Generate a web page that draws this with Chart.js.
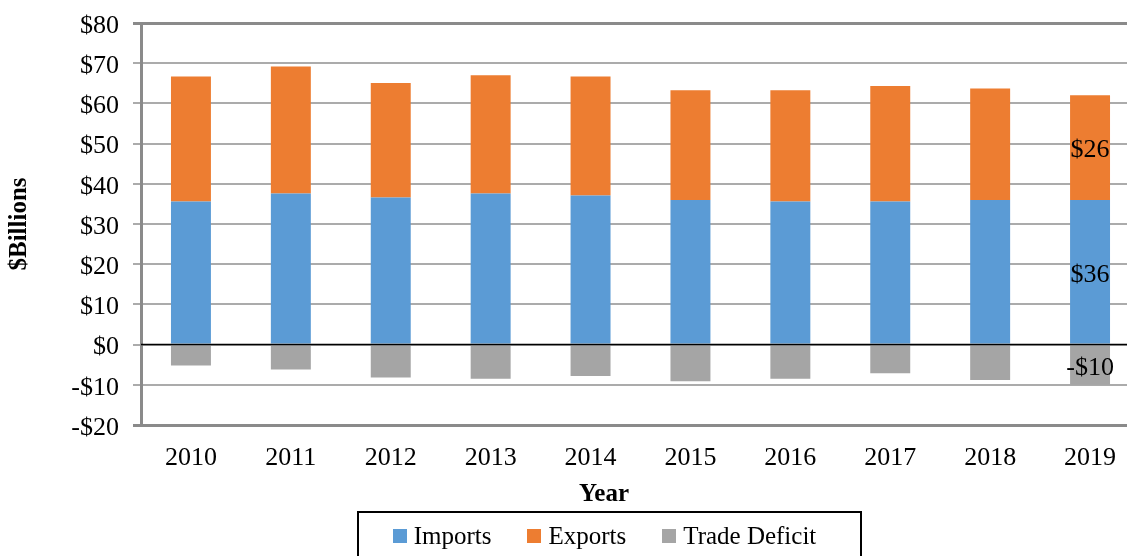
<!DOCTYPE html>
<html>
<head>
<meta charset="utf-8">
<title>Imports, Exports and Trade Deficit</title>
<script src="https://cdn.jsdelivr.net/npm/chart.js@4"></script>
<style>
  html, body { margin: 0; padding: 0; background: #fff; overflow: hidden; }
  #wrap { position: relative; width: 1141px; height: 556px; }
  #xTitle {
    position: absolute; left: 554px; width: 100px; top: 479px;
    text-align: center; font: bold 25px "Liberation Serif", serif; color: #000;
  }
  #legend {
    position: absolute; left: 357px; top: 511px; width: 505px; height: 70px;
    box-sizing: border-box; border: 2px solid #000;
    display: flex; justify-content: center; padding-top: 8px; padding-right: 10px;
    font: 25px "Liberation Serif", serif; color: #000;
  }
  #legend .item { display: flex; align-items: center; margin: 0 18px; height: 30px; }
  #legend .swatch { width: 14px; height: 14px; margin-right: 7px; }
</style>
</head>
<body>
<div id="wrap">
  <canvas id="tradeChart"></canvas>
  <div id="xTitle">Year</div>
  <div id="legend"></div>
</div>
<script>
const years = ['2010', '2011', '2012', '2013', '2014', '2015', '2016', '2017', '2018', '2019'];
const imports = [35.6, 37.6, 36.6, 37.6, 37.1, 36.0, 35.6, 35.6, 36.0, 36];
const exports = [31.1, 31.6, 28.5, 29.4, 29.6, 27.3, 27.7, 28.7, 27.7, 26];
const deficit = [-5.2, -6.2, -8.2, -8.5, -7.8, -9.1, -8.5, -7.1, -8.8, -10];

const yMin = -20;
const yMax = 80;
const yStep = 10;

const serif = '"Liberation Serif", "Times New Roman", serif';

const money = v => (v < 0 ? '-$' : '$') + Math.abs(Math.round(v));

// zero line goes over the bars, values written on the last year's bar
const overlay = {
  id: 'overlay',
  afterDatasetsDraw(chart) {
    const ctx = chart.ctx;
    const area = chart.chartArea;
    const y0 = chart.scales.y.getPixelForValue(0);
    ctx.save();
    ctx.strokeStyle = '#000';
    ctx.lineWidth = 1.5;
    ctx.beginPath();
    ctx.moveTo(area.left, y0);
    ctx.lineTo(area.right, y0);
    ctx.stroke();

    ctx.font = '26px ' + serif;
    ctx.fillStyle = '#000';
    ctx.textAlign = 'center';
    ctx.textBaseline = 'middle';
    const last = years.length - 1;
    chart.data.datasets.forEach((ds, i) => {
      const el = chart.getDatasetMeta(i).data[last];
      ctx.fillText(money(ds.data[last]), el.x, (el.y + el.base) / 2 + 3);
    });
    ctx.restore();
  }
};

const chart = new Chart(document.getElementById('tradeChart'), {
  type: 'bar',
  data: {
    labels: years,
    datasets: [
      { label: 'Imports', data: imports, backgroundColor: '#5b9bd5' },
      { label: 'Exports', data: exports, backgroundColor: '#ed7d31' },
      { label: 'Trade Deficit', data: deficit, backgroundColor: '#a5a5a5' }
    ]
  },
  options: {
    responsive: true,
    maintainAspectRatio: false,
    animation: false,
    layout: { padding: { top: 23, right: 1, bottom: 0, left: 0 } },
    datasets: { bar: { categoryPercentage: 1, barPercentage: 0.4 } },
    plugins: {
      legend: { display: false },
      tooltip: { enabled: false }
    },
    scales: {
      x: {
        stacked: true,
        grid: { display: false, drawTicks: false },
        border: { display: false },
        ticks: { color: '#000', padding: 18, font: { family: serif, size: 26 } },
        afterFit(scale) { scale.height = 131; }
      },
      y: {
        stacked: true,
        min: yMin,
        max: yMax,
        ticks: {
          stepSize: yStep,
          color: '#000',
          padding: 14,
          labelOffset: 3,
          font: { family: serif, size: 26 },
          callback: v => money(v)
        },
        grid: {
          color: ctx => (ctx.tick && (ctx.tick.value === yMax || ctx.tick.value === yMin)) ? '#8a8a8a' : '#ababab',
          lineWidth: ctx => (ctx.tick && (ctx.tick.value === yMax || ctx.tick.value === yMin)) ? 3 : 2,
          tickLength: 8
        },
        border: { display: true, color: '#8a8a8a', width: 3 },
        title: {
          display: true,
          text: '$Billions',
          color: '#000',
          padding: { top: 5, bottom: 0 },
          font: { family: serif, size: 25, weight: 'bold' }
        },
        afterFit(scale) {
          scale.width = 141;
          scale.paddingTop = 0;
          scale.paddingBottom = 0;
        }
      }
    }
  },
  plugins: [overlay]
});

// legend built from the chart's own datasets
const legend = document.getElementById('legend');
chart.data.datasets.forEach(ds => {
  const item = document.createElement('div');
  item.className = 'item';
  const sw = document.createElement('span');
  sw.className = 'swatch';
  sw.style.background = ds.backgroundColor;
  const txt = document.createElement('span');
  txt.textContent = ds.label;
  item.appendChild(sw);
  item.appendChild(txt);
  legend.appendChild(item);
});
</script>
</body>
</html>
